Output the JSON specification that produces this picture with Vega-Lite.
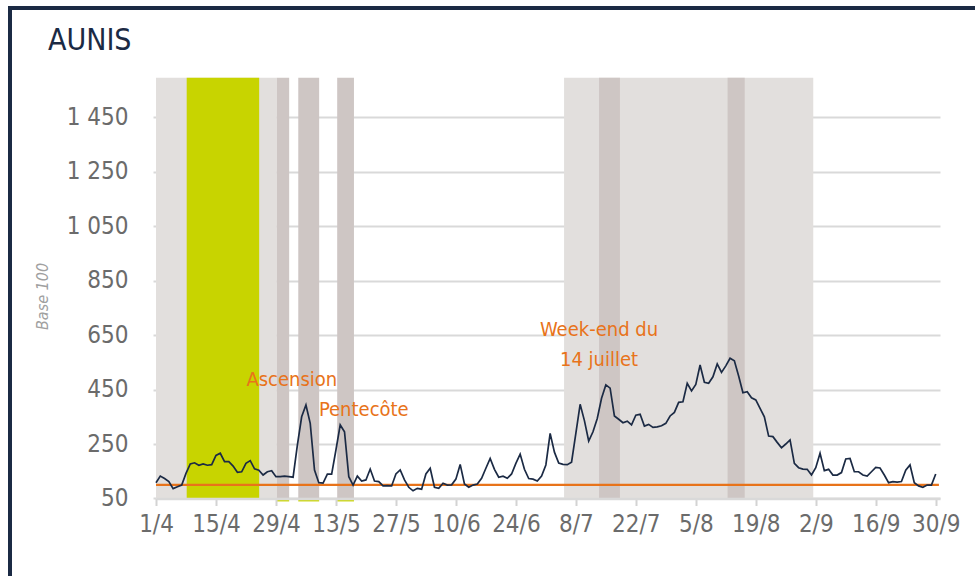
{
  "$schema": "https://vega.github.io/schema/vega-lite/v6.json",
  "width": 975,
  "height": 578,
  "autosize": {"type": "none"},
  "padding": {"left": 10, "top": 8, "right": -10, "bottom": -10},
  "background": "white",
  "title": {
    "text": "AUNIS",
    "anchor": "start",
    "frame": "group",
    "offset": -72,
    "dx": 38,
    "baseline": "alphabetic",
    "font": "DejaVu Sans Condensed",
    "fontSize": 30,
    "fontWeight": "normal",
    "color": "#1B2A44"
  },
  "config": {
    "view": {"stroke": "#1B2A44", "strokeWidth": 4},
    "font": "DejaVu Sans Condensed"
  },
  "datasets": {
    "bands": [
      {"date": "2016-04-01", "end": "2016-04-29T05:00:00Z", "kind": "vacances"},
      {"date": "2016-04-08T04:00:00Z", "end": "2016-04-25T02:00:00Z", "kind": "zone"},
      {"date": "2016-04-29T05:00:00Z", "end": "2016-05-02T02:00:00Z", "kind": "pont"},
      {"date": "2016-05-04T05:00:00Z", "end": "2016-05-09T02:00:00Z", "kind": "pont"},
      {"date": "2016-05-13T07:00:00Z", "end": "2016-05-17T05:00:00Z", "kind": "pont"},
      {"date": "2016-07-05T06:00:00Z", "end": "2016-09-01T10:00:00Z", "kind": "vacances"},
      {"date": "2016-07-13T10:00:00Z", "end": "2016-07-18T07:00:00Z", "kind": "pont"},
      {"date": "2016-08-12T10:00:00Z", "end": "2016-08-16T10:00:00Z", "kind": "pont"}
    ],
    "strips": [
      {"date": "2016-04-29T05:00:00Z", "end": "2016-05-02T02:00:00Z"},
      {"date": "2016-05-04T05:00:00Z", "end": "2016-05-09T02:00:00Z"},
      {"date": "2016-05-13T07:00:00Z", "end": "2016-05-17T05:00:00Z"}
    ],
    "base": [
      {"date": "2016-04-01", "end": "2016-09-30T18:00:00Z", "v": 100}
    ],
    "notes": [
      {"date": "2016-05-02T17:00:00Z", "v": 485, "label": "Ascension"},
      {"date": "2016-05-19T12:00:00Z", "v": 375, "label": "Pentecôte"},
      {"date": "2016-07-13T10:00:00Z", "v": 669, "label": "Week-end du\n14 juillet"}
    ],
    "series": [
      {"date": "2016-04-01", "v": 108}, {"date": "2016-04-02", "v": 132}, {"date": "2016-04-03", "v": 123}, {"date": "2016-04-04", "v": 112}, {"date": "2016-04-05", "v": 86},
      {"date": "2016-04-06", "v": 93}, {"date": "2016-04-07", "v": 99}, {"date": "2016-04-08", "v": 142}, {"date": "2016-04-09", "v": 177}, {"date": "2016-04-10", "v": 181},
      {"date": "2016-04-11", "v": 172}, {"date": "2016-04-12", "v": 177}, {"date": "2016-04-13", "v": 172}, {"date": "2016-04-14", "v": 174}, {"date": "2016-04-15", "v": 208},
      {"date": "2016-04-16", "v": 216}, {"date": "2016-04-17", "v": 185}, {"date": "2016-04-18", "v": 185}, {"date": "2016-04-19", "v": 169}, {"date": "2016-04-20", "v": 146},
      {"date": "2016-04-21", "v": 148}, {"date": "2016-04-22", "v": 179}, {"date": "2016-04-23", "v": 189}, {"date": "2016-04-24", "v": 159}, {"date": "2016-04-25", "v": 154},
      {"date": "2016-04-26", "v": 136}, {"date": "2016-04-27", "v": 148}, {"date": "2016-04-28", "v": 152}, {"date": "2016-04-29", "v": 130}, {"date": "2016-04-30", "v": 130},
      {"date": "2016-05-01", "v": 132}, {"date": "2016-05-02", "v": 130}, {"date": "2016-05-03", "v": 128}, {"date": "2016-05-04", "v": 246}, {"date": "2016-05-05", "v": 350},
      {"date": "2016-05-06", "v": 393}, {"date": "2016-05-07", "v": 326}, {"date": "2016-05-08", "v": 154}, {"date": "2016-05-09", "v": 108}, {"date": "2016-05-10", "v": 106},
      {"date": "2016-05-11", "v": 139}, {"date": "2016-05-12", "v": 139}, {"date": "2016-05-13", "v": 228}, {"date": "2016-05-14", "v": 320}, {"date": "2016-05-15", "v": 295},
      {"date": "2016-05-16", "v": 130}, {"date": "2016-05-17", "v": 99}, {"date": "2016-05-18", "v": 132}, {"date": "2016-05-19", "v": 114}, {"date": "2016-05-20", "v": 118},
      {"date": "2016-05-21", "v": 158}, {"date": "2016-05-22", "v": 114}, {"date": "2016-05-23", "v": 112}, {"date": "2016-05-24", "v": 96}, {"date": "2016-05-25", "v": 97},
      {"date": "2016-05-26", "v": 96}, {"date": "2016-05-27", "v": 140}, {"date": "2016-05-28", "v": 155}, {"date": "2016-05-29", "v": 118}, {"date": "2016-05-30", "v": 91},
      {"date": "2016-05-31", "v": 78}, {"date": "2016-06-01", "v": 87}, {"date": "2016-06-02", "v": 84}, {"date": "2016-06-03", "v": 140}, {"date": "2016-06-04", "v": 161},
      {"date": "2016-06-05", "v": 91}, {"date": "2016-06-06", "v": 87}, {"date": "2016-06-07", "v": 106}, {"date": "2016-06-08", "v": 99}, {"date": "2016-06-09", "v": 100},
      {"date": "2016-06-10", "v": 121}, {"date": "2016-06-11", "v": 175}, {"date": "2016-06-12", "v": 103}, {"date": "2016-06-13", "v": 91}, {"date": "2016-06-14", "v": 99},
      {"date": "2016-06-15", "v": 103}, {"date": "2016-06-16", "v": 124}, {"date": "2016-06-17", "v": 161}, {"date": "2016-06-18", "v": 197}, {"date": "2016-06-19", "v": 157},
      {"date": "2016-06-20", "v": 128}, {"date": "2016-06-21", "v": 132}, {"date": "2016-06-22", "v": 124}, {"date": "2016-06-23", "v": 140}, {"date": "2016-06-24", "v": 179},
      {"date": "2016-06-25", "v": 213}, {"date": "2016-06-26", "v": 157}, {"date": "2016-06-27", "v": 123}, {"date": "2016-06-28", "v": 121}, {"date": "2016-06-29", "v": 114},
      {"date": "2016-06-30", "v": 132}, {"date": "2016-07-01", "v": 173}, {"date": "2016-07-02", "v": 289}, {"date": "2016-07-03", "v": 220}, {"date": "2016-07-04", "v": 180},
      {"date": "2016-07-05", "v": 175}, {"date": "2016-07-06", "v": 174}, {"date": "2016-07-07", "v": 183}, {"date": "2016-07-08", "v": 289}, {"date": "2016-07-09", "v": 396},
      {"date": "2016-07-10", "v": 336}, {"date": "2016-07-11", "v": 261}, {"date": "2016-07-12", "v": 295}, {"date": "2016-07-13", "v": 344}, {"date": "2016-07-14", "v": 418},
      {"date": "2016-07-15", "v": 467}, {"date": "2016-07-16", "v": 455}, {"date": "2016-07-17", "v": 353}, {"date": "2016-07-18", "v": 341}, {"date": "2016-07-19", "v": 328},
      {"date": "2016-07-20", "v": 334}, {"date": "2016-07-21", "v": 320}, {"date": "2016-07-22", "v": 356}, {"date": "2016-07-23", "v": 359}, {"date": "2016-07-24", "v": 316},
      {"date": "2016-07-25", "v": 322}, {"date": "2016-07-26", "v": 311}, {"date": "2016-07-27", "v": 313}, {"date": "2016-07-28", "v": 317}, {"date": "2016-07-29", "v": 326},
      {"date": "2016-07-30", "v": 353}, {"date": "2016-07-31", "v": 366}, {"date": "2016-08-01", "v": 403}, {"date": "2016-08-02", "v": 405}, {"date": "2016-08-03", "v": 473},
      {"date": "2016-08-04", "v": 445}, {"date": "2016-08-05", "v": 469}, {"date": "2016-08-06", "v": 540}, {"date": "2016-08-07", "v": 477}, {"date": "2016-08-08", "v": 473},
      {"date": "2016-08-09", "v": 497}, {"date": "2016-08-10", "v": 544}, {"date": "2016-08-11", "v": 513}, {"date": "2016-08-12", "v": 537}, {"date": "2016-08-13", "v": 565},
      {"date": "2016-08-14", "v": 556}, {"date": "2016-08-15", "v": 500}, {"date": "2016-08-16", "v": 438}, {"date": "2016-08-17", "v": 442}, {"date": "2016-08-18", "v": 420},
      {"date": "2016-08-19", "v": 412}, {"date": "2016-08-20", "v": 381}, {"date": "2016-08-21", "v": 350}, {"date": "2016-08-22", "v": 279}, {"date": "2016-08-23", "v": 277},
      {"date": "2016-08-24", "v": 256}, {"date": "2016-08-25", "v": 236}, {"date": "2016-08-26", "v": 250}, {"date": "2016-08-27", "v": 265}, {"date": "2016-08-28", "v": 179},
      {"date": "2016-08-29", "v": 163}, {"date": "2016-08-30", "v": 158}, {"date": "2016-08-31", "v": 157}, {"date": "2016-09-01", "v": 136}, {"date": "2016-09-02", "v": 163},
      {"date": "2016-09-03", "v": 216}, {"date": "2016-09-04", "v": 152}, {"date": "2016-09-05", "v": 157}, {"date": "2016-09-06", "v": 136}, {"date": "2016-09-07", "v": 136},
      {"date": "2016-09-08", "v": 145}, {"date": "2016-09-09", "v": 195}, {"date": "2016-09-10", "v": 197}, {"date": "2016-09-11", "v": 148}, {"date": "2016-09-12", "v": 148},
      {"date": "2016-09-13", "v": 136}, {"date": "2016-09-14", "v": 132}, {"date": "2016-09-15", "v": 148}, {"date": "2016-09-16", "v": 164}, {"date": "2016-09-17", "v": 162},
      {"date": "2016-09-18", "v": 136}, {"date": "2016-09-19", "v": 108}, {"date": "2016-09-20", "v": 112}, {"date": "2016-09-21", "v": 110}, {"date": "2016-09-22", "v": 112},
      {"date": "2016-09-23", "v": 154}, {"date": "2016-09-24", "v": 173}, {"date": "2016-09-25", "v": 108}, {"date": "2016-09-26", "v": 96}, {"date": "2016-09-27", "v": 91},
      {"date": "2016-09-28", "v": 99}, {"date": "2016-09-29", "v": 99}, {"date": "2016-09-30", "v": 140}
    ]
  },
  "encoding": {
    "x": {
      "field": "date",
      "type": "temporal",
      "scale": {
        "type": "utc",
        "domain": [{"year": 2016, "month": 4, "date": 1, "utc": true}, {"year": 2016, "month": 10, "date": 1, "utc": true}],
        "range": [146, 930]
      },
      "axis": {
        "values": [
          {"year": 2016, "month": 4, "date": 1, "utc": true},
          {"year": 2016, "month": 4, "date": 15, "utc": true},
          {"year": 2016, "month": 4, "date": 29, "utc": true},
          {"year": 2016, "month": 5, "date": 13, "utc": true},
          {"year": 2016, "month": 5, "date": 27, "utc": true},
          {"year": 2016, "month": 6, "date": 10, "utc": true},
          {"year": 2016, "month": 6, "date": 24, "utc": true},
          {"year": 2016, "month": 7, "date": 8, "utc": true},
          {"year": 2016, "month": 7, "date": 22, "utc": true},
          {"year": 2016, "month": 8, "date": 5, "utc": true},
          {"year": 2016, "month": 8, "date": 19, "utc": true},
          {"year": 2016, "month": 9, "date": 2, "utc": true},
          {"year": 2016, "month": 9, "date": 16, "utc": true},
          {"year": 2016, "month": 9, "date": 30, "utc": true}
        ],
        "labelExpr": "utcFormat(datum.value, '%-d/%-m')",
        "offset": -87.5,
        "title": null,
        "grid": false,
        "zindex": 1,
        "domainColor": "#D9D9D9",
        "domainWidth": 2.5,
        "tickColor": "#D3D3D3",
        "tickSize": 7,
        "tickWidth": 2,
        "labelFontSize": 24,
        "labelColor": "#6B6B6B",
        "labelPadding": 7,
        "labelFlush": false,
        "labelOverlap": false
      }
    }
  },
  "layer": [
    {
      "data": {"name": "bands"},
      "mark": {"type": "rect"},
      "encoding": {
        "x2": {"field": "end"},
        "y": {"datum": 50},
        "y2": {"datum": 1595},
        "color": {
          "field": "kind",
          "type": "nominal",
          "scale": {"domain": ["vacances", "zone", "pont"], "range": ["#E2DFDD", "#C8D400", "#CEC6C4"]},
          "legend": null
        }
      }
    },
    {
      "data": {"name": "strips"},
      "mark": {"type": "rect", "color": "#C8D400"},
      "encoding": {
        "x2": {"field": "end"},
        "y": {"datum": 46},
        "y2": {"datum": 39}
      }
    },
    {
      "data": {"name": "base"},
      "mark": {"type": "rule", "color": "#E8731A", "strokeWidth": 2.2},
      "encoding": {
        "x2": {"field": "end"},
        "y": {"field": "v", "type": "quantitative"}
      }
    },
    {
      "data": {"name": "series"},
      "mark": {"type": "line", "color": "#1B2A44", "strokeWidth": 1.7},
      "encoding": {
        "y": {
          "field": "v",
          "type": "quantitative",
          "scale": {"domain": [50, 1450], "range": [490.45, 109.3], "nice": false, "zero": false},
          "axis": {
            "values": [50, 250, 450, 650, 850, 1050, 1250, 1450],
            "labelExpr": "replace(format(datum.value, ','), ',', ' ')",
            "offset": -146,
            "title": "Base 100",
            "titleFontStyle": "italic",
            "titleFontWeight": "normal",
            "titleFontSize": 16,
            "titleColor": "#A0A0A0",
            "titleX": -114,
            "titleY": 288,
            "titleAngle": 270,
            "titleAlign": "center",
            "titleBaseline": "middle",
            "grid": true,
            "gridColor": "#D9D9D9",
            "gridWidth": 2,
            "domain": false,
            "tickColor": "#D9D9D9",
            "tickSize": 3,
            "tickWidth": 2,
            "labelFontSize": 24,
            "labelColor": "#6B6B6B",
            "labelPadding": 25
          }
        }
      }
    },
    {
      "data": {"name": "notes"},
      "mark": {"type": "text", "color": "#E8731A", "fontSize": 20, "align": "center", "baseline": "middle", "lineBreak": "\n", "lineHeight": 30},
      "encoding": {
        "y": {"field": "v", "type": "quantitative"},
        "text": {"field": "label", "type": "nominal"}
      }
    }
  ]
}
